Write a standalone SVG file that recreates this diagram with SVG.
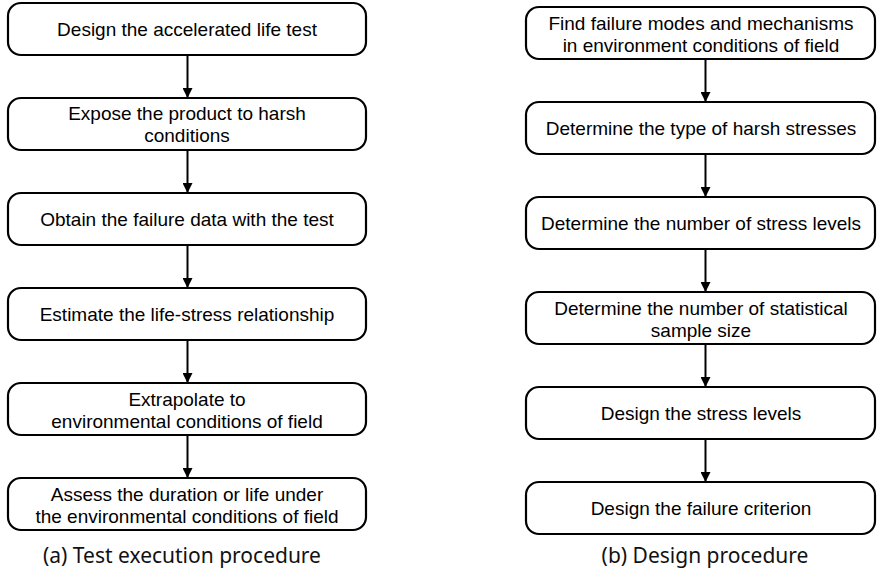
<svg xmlns="http://www.w3.org/2000/svg" width="877" height="580" viewBox="0 0 877 580">
<style>
.box{fill:#fff;stroke:#000;stroke-width:2.2}
.t{font-family:"Liberation Sans",Arial,sans-serif;font-size:19px;fill:#000;text-anchor:middle}
.cap{font-family:"Noto Sans","Open Sans",sans-serif;font-size:21px;fill:#111;text-anchor:middle}
.ln{stroke:#000;stroke-width:2;fill:none}
</style>
<defs>
<marker id="ah" markerWidth="10" markerHeight="10" refX="10" refY="5" orient="auto" markerUnits="userSpaceOnUse">
<path d="M0,0 L10,5 L0,10 Z" fill="#000"/>
</marker>
</defs>
<rect width="877" height="580" fill="#fff"/>
<g id="connectors">
<line class="ln" x1="187.5" y1="55" x2="187.5" y2="98" marker-end="url(#ah)"/>
<line class="ln" x1="187.5" y1="150" x2="187.5" y2="193" marker-end="url(#ah)"/>
<line class="ln" x1="187.5" y1="245" x2="187.5" y2="288" marker-end="url(#ah)"/>
<line class="ln" x1="187.5" y1="340" x2="187.5" y2="383" marker-end="url(#ah)"/>
<line class="ln" x1="187.5" y1="435" x2="187.5" y2="478" marker-end="url(#ah)"/>
<line class="ln" x1="705.5" y1="59" x2="705.5" y2="102" marker-end="url(#ah)"/>
<line class="ln" x1="705.5" y1="154" x2="705.5" y2="197" marker-end="url(#ah)"/>
<line class="ln" x1="705.5" y1="249" x2="705.5" y2="292" marker-end="url(#ah)"/>
<line class="ln" x1="705.5" y1="344" x2="705.5" y2="387" marker-end="url(#ah)"/>
<line class="ln" x1="705.5" y1="439" x2="705.5" y2="482" marker-end="url(#ah)"/>
</g>
<g id="a1"><rect class="box" x="8" y="3" width="358" height="52" rx="13"/><text class="t" x="187" y="36">Design the accelerated life test</text></g>
<g id="a2"><rect class="box" x="8" y="98" width="358" height="52" rx="13"/><text class="t" x="187" y="120">Expose the product to harsh</text><text class="t" x="187" y="142">conditions</text></g>
<g id="a3"><rect class="box" x="8" y="193" width="358" height="52" rx="13"/><text class="t" x="187" y="226">Obtain the failure data with the test</text></g>
<g id="a4"><rect class="box" x="8" y="288" width="358" height="52" rx="13"/><text class="t" x="187" y="321">Estimate the life-stress relationship</text></g>
<g id="a5"><rect class="box" x="8" y="383" width="358" height="52" rx="13"/><text class="t" x="187" y="406">Extrapolate to</text><text class="t" x="187" y="428">environmental conditions of field</text></g>
<g id="a6"><rect class="box" x="8" y="478" width="358" height="52" rx="13"/><text class="t" x="187" y="501">Assess the duration or life under</text><text class="t" x="187" y="523">the environmental conditions of field</text></g>
<g id="b1"><rect class="box" x="526" y="7" width="349" height="52" rx="13"/><text class="t" x="701" y="30">Find failure modes and mechanisms</text><text class="t" x="701" y="52">in environment conditions of field</text></g>
<g id="b2"><rect class="box" x="526" y="102" width="349" height="52" rx="13"/><text class="t" x="701" y="135">Determine the type of harsh stresses</text></g>
<g id="b3"><rect class="box" x="526" y="197" width="349" height="52" rx="13"/><text class="t" x="701" y="230">Determine the number of stress levels</text></g>
<g id="b4"><rect class="box" x="526" y="292" width="349" height="52" rx="13"/><text class="t" x="701" y="315">Determine the number of statistical</text><text class="t" x="701" y="337">sample size</text></g>
<g id="b5"><rect class="box" x="526" y="387" width="349" height="52" rx="13"/><text class="t" x="701" y="420">Design the stress levels</text></g>
<g id="b6"><rect class="box" x="526" y="482" width="349" height="52" rx="13"/><text class="t" x="701" y="515">Design the failure criterion</text></g>
<text class="cap" x="182" y="563">(a) Test execution procedure</text>
<text class="cap" x="705" y="563">(b) Design procedure</text>
</svg>
